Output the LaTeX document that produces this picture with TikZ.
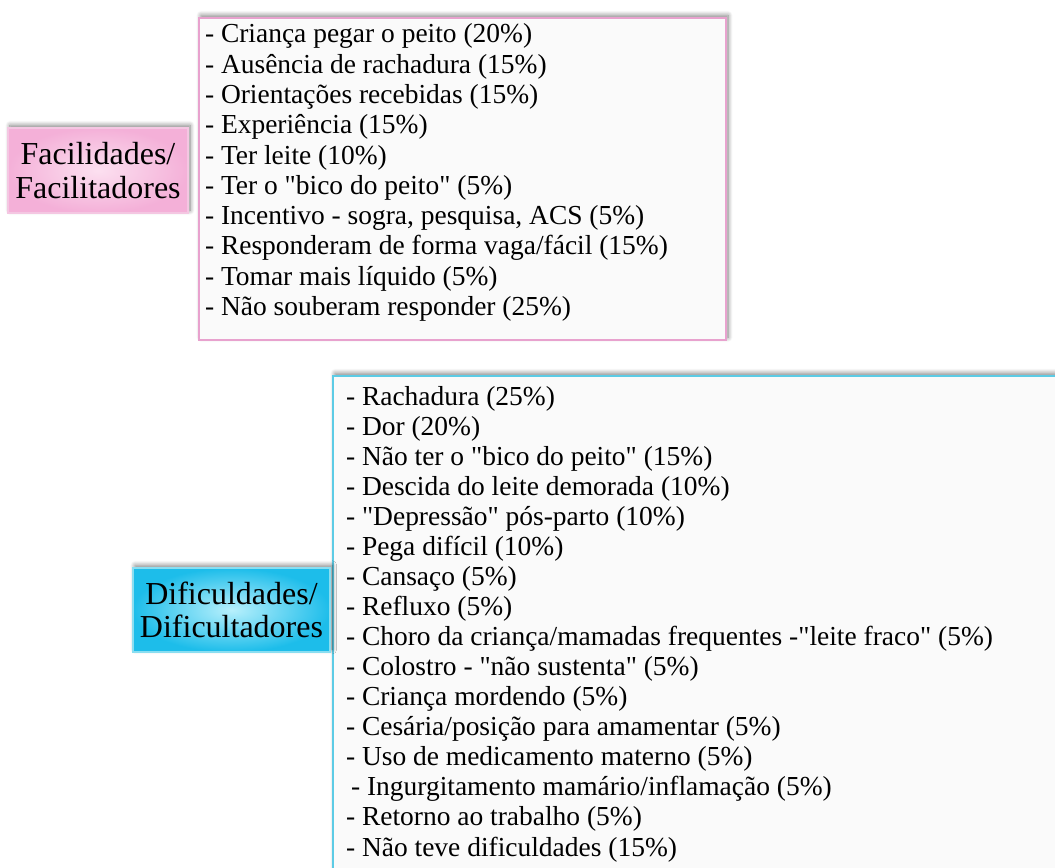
\documentclass[tikz,border=0pt]{standalone}
\usepackage{fontspec}
\setmainfont{Liberation Serif}[Ligatures=TeXOff]
\usetikzlibrary{shadows.blur}
\definecolor{pinkedge}{HTML}{E8A2CE}
\definecolor{pinkin}{HTML}{FCE0F0}
\definecolor{pinkout}{HTML}{F4B0D8}
\definecolor{cyanedge}{HTML}{5CCBE5}
\definecolor{cyanin}{HTML}{B8F0FC}
\definecolor{cyanout}{HTML}{1DBDEA}
\definecolor{paper}{HTML}{FAFAFA}
\tikzset{
  boxshadow/.style={blur shadow={shadow xshift=1.5pt, shadow yshift=2pt,
      shadow blur radius=3.5pt, shadow blur steps=8, shadow opacity=50}},
  listbox/.style={rectangle, inner sep=0pt, outer sep=0pt, anchor=north west,
      fill=paper, line width=1pt, boxshadow},
  labelbox/.style={rectangle, inner sep=0pt, outer sep=0pt, align=center,
      font=\fontsize{24}{25}\selectfont, line width=0.8pt, boxshadow},
  item/.style={anchor=base west, inner sep=0pt, outer sep=0pt,
      font=\fontsize{20.6}{23}\selectfont}
}
\begin{document}
\begin{tikzpicture}[x=0.75pt, y=-0.75pt]
\useasboundingbox (0,0) rectangle (1055,867);
\clip (0,0) rectangle (1055,867);

% Facilities
\node[listbox, draw=pinkedge, minimum width=395.25pt, minimum height=241.5pt]
  (facbox) at (199,18) {};
\node[labelbox, draw=pinkin!60!pinkedge, inner color=pinkin, outer color=pinkout,
  minimum width=135pt, minimum height=63.75pt] (fac) at (98,170.5)
  {Facilidades/\\Facilitadores};

\node[item] (f1)  at (205,43)     {- Criança pegar o peito (20\%)};
\node[item] (f2)  at (205,73.25)  {- Ausência de rachadura (15\%)};
\node[item] (f3)  at (205,103.5)  {- Orientações recebidas (15\%)};
\node[item] (f4)  at (205,133.75) {- Experiência (15\%)};
\node[item] (f5)  at (205,164)    {- Ter leite (10\%)};
\node[item] (f6)  at (205,194.25) {- Ter o "bico do peito" (5\%)};
\node[item] (f7)  at (205,224.5)  {- Incentivo - sogra, pesquisa, ACS (5\%)};
\node[item] (f8)  at (205,254.75) {- Responderam de forma vaga/fácil (15\%)};
\node[item] (f9)  at (205,285)    {- Tomar mais líquido (5\%)};
\node[item] (f10) at (205,315.25) {- Não souberam responder (25\%)};

% Difficulties
\node[listbox, draw=cyanedge, minimum width=560pt, minimum height=390pt]
  (difbox) at (333,376) {};
\node[labelbox, draw=cyanin!50!cyanedge, inner color=cyanin, outer color=cyanout,
  minimum width=147.75pt, minimum height=63pt] (dif) at (231.5,610)
  {Dificuldades/\\Dificultadores};

\node[item] (d1)  at (346,405)    {- Rachadura (25\%)};
\node[item] (d2)  at (346,435.07) {- Dor (20\%)};
\node[item] (d3)  at (346,465.14) {- Não ter o "bico do peito" (15\%)};
\node[item] (d4)  at (346,495.21) {- Descida do leite demorada (10\%)};
\node[item] (d5)  at (346,525.28) {- "Depressão" pós-parto (10\%)};
\node[item] (d6)  at (346,555.35) {- Pega difícil (10\%)};
\node[item] (d7)  at (346,585.42) {- Cansaço (5\%)};
\node[item] (d8)  at (346,615.49) {- Refluxo (5\%)};
\node[item] (d9)  at (346,645.56) {- Choro da criança/mamadas frequentes -"leite fraco" (5\%)};
\node[item] (d10) at (346,675.63) {- Colostro - "não sustenta" (5\%)};
\node[item] (d11) at (346,705.7)  {- Criança mordendo (5\%)};
\node[item] (d12) at (346,735.77) {- Cesária/posição para amamentar (5\%)};
\node[item] (d13) at (346,765.84) {- Uso de medicamento materno (5\%)};
\node[item] (d14) at (351,795.91) {- Ingurgitamento mamário/inflamação (5\%)};
\node[item] (d15) at (346,825.98) {- Retorno ao trabalho (5\%)};
\node[item] (d16) at (346,856.05) {- Não teve dificuldades (15\%)};
\end{tikzpicture}
\end{document}
